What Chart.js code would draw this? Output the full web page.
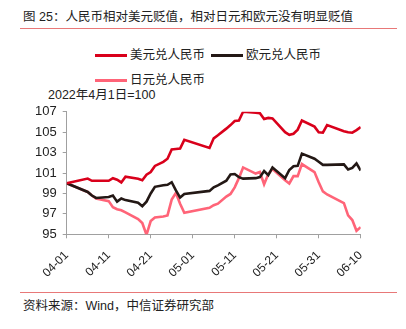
<!DOCTYPE html>
<html>
<head>
<meta charset="utf-8">
<script src="https://cdn.jsdelivr.net/npm/chart.js@4/dist/chart.umd.min.js"></script>
<style>
  html, body { margin: 0; padding: 0; background: #fff; }
  body { width: 406px; height: 329px; position: relative; overflow: hidden;
         font-family: "Liberation Sans", "Noto Sans CJK SC", sans-serif; color: #222; }
  .abs { position: absolute; white-space: nowrap; }
  .title { left: 23px; top: 9px; font-size: 12.5px; line-height: 16px; }
  .rule { left: 20px; width: 377px; height: 1px; background: #E87878; }
  .leg { font-size: 12.5px; line-height: 16px; }
  .sw { position: absolute; height: 3px; }
  .src { left: 23px; top: 298px; font-size: 12.5px; line-height: 16px; }
  .note { left: 48px; top: 87px; font-size: 12.5px; line-height: 16px; }
  #wrap { position: absolute; left: 0; top: 98px; width: 406px; height: 190px; }
</style>
</head>
<body>
<div class="abs title">图 25：人民币相对美元贬值，相对日元和欧元没有明显贬值</div>
<div class="abs rule" style="top:28px"></div>

<div class="sw" style="left:95px; top:54px; width:32px; background:#D9001B"></div>
<div class="abs leg" style="left:130px; top:47px">美元兑人民币</div>
<div class="sw" style="left:211px; top:54px; width:32px; background:#231815"></div>
<div class="abs leg" style="left:246px; top:47px">欧元兑人民币</div>
<div class="sw" style="left:95px; top:79px; width:32px; background:#FF6478"></div>
<div class="abs leg" style="left:130px; top:72px">日元兑人民币</div>

<div class="abs note">2022年4月1日=100</div>

<div id="wrap"><canvas id="c"></canvas></div>

<div class="abs rule" style="top:292px"></div>
<div class="abs src">资料来源：Wind，中信证券研究部</div>

<script>
const dates = [
  "2022-04-01","2022-04-06","2022-04-07","2022-04-08",
  "2022-04-11","2022-04-12","2022-04-13","2022-04-14","2022-04-15",
  "2022-04-18","2022-04-19","2022-04-20","2022-04-21","2022-04-22",
  "2022-04-24","2022-04-25","2022-04-26","2022-04-27","2022-04-28","2022-04-29",
  "2022-05-05","2022-05-06","2022-05-07",
  "2022-05-09","2022-05-10","2022-05-11","2022-05-12","2022-05-13",
  "2022-05-16","2022-05-17","2022-05-18","2022-05-19","2022-05-20",
  "2022-05-23","2022-05-24","2022-05-25","2022-05-26","2022-05-27",
  "2022-05-30","2022-05-31","2022-06-01","2022-06-02",
  "2022-06-06","2022-06-07","2022-06-08","2022-06-09","2022-06-10"
];
const usdCny = [
  100.0,100.46,100.24,100.24,
  100.24,100.5,100.35,100.08,100.65,
  100.45,100.3,100.84,101.1,101.7,
  102.1,102.4,103.3,103.35,103.4,104.25,
  103.46,104.4,104.7,
  105.35,105.7,106.1,106.15,107.0,
  106.9,106.85,106.3,106.4,106.35,
  105.0,104.75,104.85,105.25,106.15,
  105.55,105.0,104.95,105.7,
  105.1,105.0,104.95,105.2,105.5
];
const eurCny = [
  100.0,99.15,98.8,98.56,
  98.65,98.8,98.2,98.5,98.35,
  98.1,97.75,98.2,99.0,99.65,
  99.8,99.85,100.1,99.3,98.6,98.95,
  99.25,99.6,99.8,
  100.25,100.85,100.9,100.6,100.45,
  100.5,100.6,101.2,100.8,101.55,
  100.5,101.3,101.66,101.7,102.9,
  102.4,102.1,101.8,101.8,
  101.85,101.35,101.5,101.95,101.25
];
const jpyCny = [
  100.0,99.15,98.8,98.5,
  98.25,97.65,97.45,97.35,97.15,
  96.5,96.1,94.95,96.3,96.65,
  96.75,96.85,98.4,99.05,98.0,97.1,
  97.6,97.85,98.0,
  98.7,98.95,99.6,100.5,101.55,
  100.95,101.1,99.9,100.9,101.4,
  100.3,99.98,100.7,100.7,101.88,
  101.1,100.1,99.2,98.9,
  98.05,96.85,96.4,95.35,95.7
];
const xTickLabels = ["04-01","04-11","04-21","05-01","05-11","05-21","05-31","06-10"];
const yTicks = [95, 97, 99, 101, 103, 105, 107];

const base = Date.UTC(2022, 3, 1);
function dayIndex(s) {
  const p = s.split("-").map(Number);
  return Math.round((Date.UTC(p[0], p[1] - 1, p[2]) - base) / 86400000);
}
const xs = dates.map(dayIndex);
const pts = arr => arr.map((v, i) => ({ x: xs[i], y: v }));

const FONT = "'Liberation Sans', 'Noto Sans CJK SC', sans-serif";
const axisGrey = '#A0A0A0';

new Chart(document.getElementById('c'), {
  type: 'line',
  data: {
    datasets: [
      { label: '美元兑人民币', data: pts(usdCny), borderColor: '#D9001B', borderWidth: 2.6 },
      { label: '欧元兑人民币', data: pts(eurCny), borderColor: '#231815', borderWidth: 2.6 },
      { label: '日元兑人民币', data: pts(jpyCny), borderColor: '#FF6478', borderWidth: 2.6 }
    ]
  },
  options: {
    responsive: true,
    maintainAspectRatio: false,
    animation: false,
    events: [],
    elements: { point: { radius: 0 }, line: { tension: 0 } },
    layout: { padding: { top: 9.7, right: 45.3, left: 0, bottom: 0 } },
    plugins: { legend: { display: false }, tooltip: { enabled: false } },
    scales: {
      x: {
        type: 'linear',
        min: 0, max: 70,
        afterBuildTicks: axis => { axis.ticks = xTickLabels.map((_, i) => ({ value: i * 10 })); },
        afterFit: axis => { axis.height = 53.7; },
        ticks: {
          autoSkip: false, minRotation: 45, maxRotation: 45,
          color: '#222', font: { family: FONT, size: 12 }, padding: 10,
          callback: (v) => xTickLabels[Math.round(v / 10)]
        },
        grid: { drawOnChartArea: false, drawTicks: true, tickLength: 4, color: axisGrey },
        border: { color: axisGrey, width: 1 }
      },
      y: {
        min: 95, max: 107,
        afterBuildTicks: axis => { axis.ticks = yTicks.map(v => ({ value: v })); },
        afterFit: axis => { axis.width = 66.7; },
        ticks: { color: '#222', font: { family: FONT, size: 13 }, padding: 6 },
        grid: { drawOnChartArea: false, drawTicks: true, tickLength: 4, color: axisGrey },
        border: { color: axisGrey, width: 1 }
      }
    }
  }
});
</script>
</body>
</html>
